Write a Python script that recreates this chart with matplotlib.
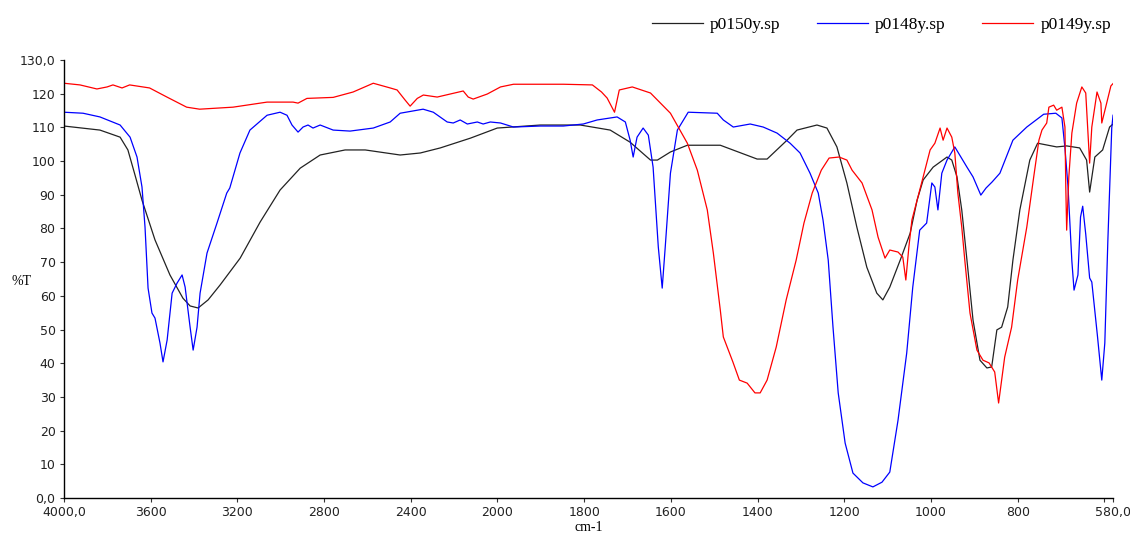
import numpy as np
import matplotlib
matplotlib.use("Agg")
from matplotlib import pyplot as plt

# p0150y.sp (black)
black_wn = [4000, 3834, 3741, 3705, 3672, 3640, 3580, 3511, 3451, 3418, 3381, 3335, 3280, 3187, 3095,
            3003, 2910, 2818, 2703, 2610, 2449, 2356, 2264, 2125, 2001, 1901, 1809, 1740, 1694, 1647,
            1631, 1601, 1562, 1486, 1401, 1378, 1332, 1309, 1263, 1240, 1217, 1194, 1171, 1148, 1125,
            1111, 1095, 1071, 1048, 1032, 1018, 995, 963, 952, 940, 929, 917, 903, 887, 871, 860, 848,
            837, 823, 811, 795, 772, 754, 710, 687, 657, 641, 634, 622, 604, 588, 580]
black_t = [110.4, 109.2, 107.1, 103.3, 95.8, 88.4, 76.6, 66.2, 59.3, 57.0, 56.4, 58.8, 63.2, 71.2, 81.9,
           91.4, 97.9, 101.8, 103.3, 103.3, 101.8, 102.4, 103.9, 106.8, 109.8, 110.7, 110.7, 109.2, 105.6, 100.3,
           100.3, 102.7, 104.7, 104.7, 100.6, 100.6, 106.2, 109.2, 110.7, 109.8, 104.2, 93.5, 80.4, 68.5, 60.8,
           58.8, 62.6, 70.6, 78.6, 88.4, 94.4, 98.2, 101.2, 100.3, 95.3, 85.5, 70.6, 52.8, 40.9, 38.6, 38.9, 49.9,
           50.7, 56.7, 70.6, 85.5, 100.3, 105.3, 104.2, 104.5, 103.9, 100.3, 90.8, 101.2, 103.3, 110.1, 111.0]

# p0148y.sp (blue)
blue_wn = [4000, 3912, 3834, 3741, 3695, 3663, 3640, 3626, 3612, 3594, 3580, 3557, 3543, 3524, 3501,
           3478, 3455, 3441, 3418, 3404, 3386, 3372, 3340, 3294, 3249, 3235, 3220, 3188, 3142, 3063,
           3003, 2971, 2948, 2920, 2897, 2874, 2851, 2818, 2758, 2680, 2573, 2495, 2449, 2343, 2296,
           2232, 2204, 2172, 2139, 2093, 2066, 2033, 1993, 1963, 1901, 1848, 1802, 1770, 1724, 1705,
           1694, 1687, 1678, 1664, 1652, 1641, 1629, 1620, 1613, 1601, 1585, 1560, 1493, 1479, 1456,
           1417, 1387, 1355, 1325, 1302, 1279, 1260, 1249, 1237, 1226, 1214, 1198, 1180, 1157, 1134,
           1113, 1095, 1076, 1056, 1042, 1026, 1010, 998, 991, 984, 975, 963, 945, 917, 903, 885, 873,
           859, 841, 811, 779, 740, 712, 698, 691, 684, 675, 670, 661, 655, 650, 643, 634, 629, 616,
           606, 599, 592, 583, 580]
blue_t = [114.5, 114.2, 113.1, 110.7, 107.1, 101.2, 92.3, 80.4, 62.3, 54.9, 53.4, 46.0, 40.4, 46.9, 60.8,
          63.8, 66.2, 62.6, 50.7, 43.9, 50.7, 60.8, 72.7, 81.6, 90.5, 92.0, 95.3, 102.4, 109.2, 113.6,
          114.5, 113.6, 110.7, 108.6, 110.1, 110.7, 109.8, 110.7, 109.2, 108.9, 109.8, 111.6, 114.2, 115.4, 114.5,
          111.6, 111.3, 112.2, 111.0, 111.6, 111.0, 111.6, 111.3, 110.1, 110.4, 110.4, 111.0, 112.2, 113.1, 111.6,
          106.2, 101.2, 107.1, 109.8, 107.7, 98.2, 74.5, 62.3, 74.5, 96.4, 109.2, 114.5, 114.2, 112.2, 110.1,
          111.0, 110.1, 108.3, 105.3, 102.4, 96.4, 90.5, 82.5, 70.6, 50.7, 31.2, 16.3, 7.4, 4.5, 3.3,
          4.7, 7.7, 23.1, 43.0, 62.6, 79.5, 81.6, 93.5, 92.3, 85.5, 96.4, 100.3, 104.2, 98.2, 95.3, 89.9, 92.0,
          93.8, 96.4, 106.2, 110.1, 113.9, 114.2, 112.8, 103.9, 92.6, 70.3, 61.7, 66.2, 83.4, 86.6, 78.3, 65.3, 64.1, 48.1,
          35.0, 46.0, 76.3, 109.8, 113.6]

# p0149y.sp (red)
red_wn = [4000, 3926, 3848, 3801, 3774, 3732, 3697, 3605, 3525, 3434, 3374, 3220, 3063, 2943, 2920,
          2879, 2758, 2666, 2573, 2495, 2463, 2426, 2403, 2370, 2342, 2278, 2158, 2135, 2112, 2047,
          1993, 1963, 1848, 1781, 1760, 1747, 1730, 1719, 1689, 1647, 1601, 1562, 1539, 1516, 1502,
          1486, 1479, 1457, 1442, 1424, 1406, 1394, 1378, 1357, 1334, 1311, 1293, 1274, 1253, 1235,
          1212, 1194, 1182, 1159, 1136, 1122, 1106, 1095, 1076, 1065, 1058, 1051, 1044, 1032, 1018,
          1002, 991, 979, 972, 963, 952, 945, 938, 929, 922, 910, 894, 880, 866, 853, 844, 837, 830,
          814, 800, 779, 763, 751, 744, 733, 728, 717, 710, 698, 691, 689, 687, 682, 675, 664, 652,
          643, 634, 629, 617, 608, 606, 597, 585, 580]
red_t = [123.1, 122.6, 121.4, 122.0, 122.6, 121.7, 122.6, 121.7, 119.0, 116.0, 115.4, 116.0, 117.5, 117.5, 117.2,
         118.6, 118.9, 120.5, 123.1, 121.7, 121.1, 118.1, 116.3, 118.6, 119.6, 119.0, 120.8, 119.0, 118.4, 119.9,
         122.0, 122.8, 122.8, 122.6, 120.5, 118.7, 114.5, 121.1, 122.0, 120.2, 114.2, 105.3, 97.3, 85.5, 72.7,
         55.8, 47.8, 40.4, 35.0, 34.1, 31.2, 31.2, 35.0, 44.8, 58.8, 70.6, 81.6, 90.5, 97.3, 100.9,
         101.2, 100.3, 97.3, 93.5, 85.5, 77.4, 71.2, 73.6, 73.0, 71.5, 64.7, 74.5, 82.5, 88.4, 95.3,
         103.3, 105.3, 109.8, 106.2, 109.8, 107.1, 102.4, 90.5, 80.4, 70.6, 54.9, 43.9, 40.9, 40.1, 37.4, 28.2, 35.0, 41.8,
         50.7, 64.7, 80.4, 95.3, 106.2, 109.2, 111.3, 116.0, 116.6, 115.1, 116.0, 110.1, 92.3, 79.5, 95.3, 108.3, 117.2, 122.0,
         120.2, 99.4, 110.1, 120.5, 117.2, 111.3, 116.0, 122.3, 123.0]

x_ticks = [4000, 3600, 3200, 2800, 2400, 2000, 1800, 1600, 1400, 1200, 1000, 800, 600, 580]
x_labels = ["4000,0", "3600", "3200", "2800", "2400", "2000", "1800", "1600", "1400", "1200",
            "1000", "800", "", "580,0"]
y_ticks = list(range(0, 131, 10))
y_labels = ["0,0"] + [str(v) for v in range(10, 121, 10)] + ["130,0"]


# x axis is compressed by 2 above 2000 cm-1
def fwd(x):
    x = np.asarray(x, dtype=float)
    return np.where(x <= 2000, x, 2000 + (x - 2000) / 2.0)


def inv(y):
    y = np.asarray(y, dtype=float)
    return np.where(y <= 2000, y, 2000 + (y - 2000) * 2.0)


tick_font = ["Liberation Sans Narrow", "DejaVu Sans"]
serif_font = ["Liberation Serif", "DejaVu Serif"]

fig = plt.figure(figsize=(11.3, 5.38), dpi=100)
ax = fig.add_axes([0.0566, 0.0743, 0.9284, 0.8142])

ax.plot(black_wn, black_t, color="#222222", lw=0.9, label="p0150y.sp")
ax.plot(blue_wn, blue_t, color="#0000ff", lw=0.9, label="p0148y.sp")
ax.plot(red_wn, red_t, color="#ff0000", lw=0.9, label="p0149y.sp")

ax.set_xscale("function", functions=(fwd, inv))
ax.set_xlim(4000, 580)
ax.set_ylim(0, 130)

ax.set_xticks(x_ticks)
ax.set_xticklabels(x_labels, family=tick_font, fontsize=9)
ax.set_yticks(y_ticks)
ax.set_yticklabels(y_labels, family=tick_font, fontsize=9)
ax.minorticks_off()
ax.tick_params(length=3, width=0.8, color="#333333", labelcolor="#222222", pad=3)

ax.spines["right"].set_color("none")
ax.spines["top"].set_color("none")
ax.spines["left"].set_linewidth(1.0)
ax.spines["bottom"].set_linewidth(1.0)

ax.set_xlabel("cm-1", family=serif_font, fontsize=10, labelpad=1)
ax.set_ylabel("%T", family=serif_font, fontsize=10, rotation=0)
ax.yaxis.set_label_coords(-0.04, 0.48)

fig.legend(loc="upper right", bbox_to_anchor=(0.997, 0.997), ncol=3, frameon=False,
           handlelength=2.95, handletextpad=0.4, columnspacing=2.1,
           prop={"family": serif_font, "size": 12.5})

plt.savefig("out.png", dpi=100)
